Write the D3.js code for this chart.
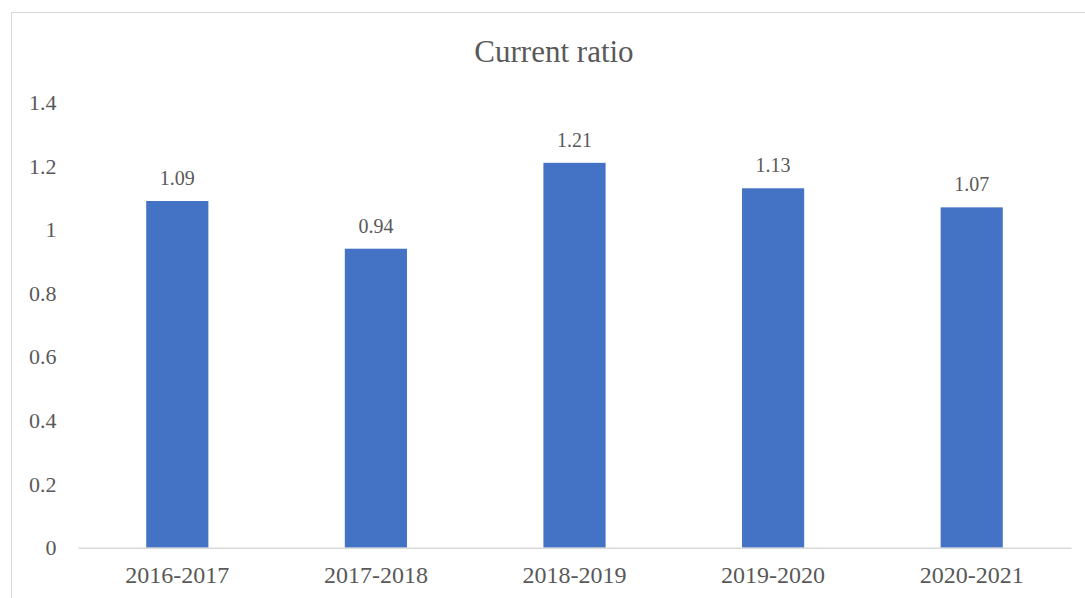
<!DOCTYPE html>
<html>
<head>
<meta charset="utf-8">
<script src="https://cdn.jsdelivr.net/npm/d3@7"></script>
<style>
  html, body { margin: 0; padding: 0; background: #fff; }
  svg { display: block; }
  text { font-family: "Liberation Serif", "Times New Roman", serif; fill: #595959; }
</style>
</head>
<body>
<svg id="chart" width="1085" height="598"></svg>
<script>
// Current ratio by fiscal year
const years = ["2016-2017", "2017-2018", "2018-2019", "2019-2020", "2020-2021"];
const ratios = [1.09, 0.94, 1.21, 1.13, 1.07];
const yTicks = [0, 0.2, 0.4, 0.6, 0.8, 1, 1.2, 1.4];

const svg = d3.select("#chart");
const plot = { left: 78, right: 1071, top: 102.4, bottom: 547.7 };

// chart frame
svg.append("rect")
  .attr("x", 11.5).attr("y", 12.5)
  .attr("width", 1100).attr("height", 620)
  .attr("fill", "#fff")
  .attr("stroke", "#d9d9d9").attr("stroke-width", 1);

// title
svg.append("text")
  .attr("x", 554).attr("y", 62)
  .attr("text-anchor", "middle")
  .style("font-size", "31px")
  .text("Current ratio");

const x = d3.scaleBand()
  .domain(years)
  .range([plot.left, plot.right])
  .paddingInner(0.687)
  .paddingOuter(0.3435);

const y = d3.scaleLinear()
  .domain([0, 1.4])
  .range([plot.bottom, plot.top]);

// y axis labels (no axis line)
const yAxis = d3.axisLeft(y)
  .tickValues(yTicks)
  .tickFormat(d3.format("~g"))
  .tickSize(0)
  .tickPadding(0);

const yg = svg.append("g")
  .attr("transform", "translate(56.5,0)")
  .call(yAxis);
yg.select(".domain").remove();
yg.selectAll("text")
  .style("font-size", "22px")
  .style("font-family", "'Liberation Serif', 'Times New Roman', serif")
  .attr("fill", "#595959");

// bars
svg.append("g").selectAll("rect")
  .data(ratios)
  .join("rect")
  .attr("x", (d, i) => x(years[i]))
  .attr("width", x.bandwidth())
  .attr("y", d => y(d))
  .attr("height", d => y(0) - y(d))
  .attr("fill", "#4472c4");

// value labels
svg.append("g").selectAll("text")
  .data(ratios)
  .join("text")
  .attr("x", (d, i) => x(years[i]) + x.bandwidth() / 2)
  .attr("y", d => y(d) - 16)
  .attr("text-anchor", "middle")
  .style("font-size", "20px")
  .text(d => d.toFixed(2));

// x axis (baseline + category labels)
const xAxis = d3.axisBottom(x).tickSize(0).tickPadding(0);
const xg = svg.append("g")
  .attr("transform", `translate(0,${plot.bottom})`)
  .call(xAxis);
xg.select(".domain")
  .attr("stroke", "#d9d9d9")
  .attr("stroke-width", 1.5);
xg.selectAll("text")
  .attr("dy", 0)
  .attr("y", 35.5)
  .style("font-size", "24px")
  .style("font-family", "'Liberation Serif', 'Times New Roman', serif")
  .attr("fill", "#595959");
</script>
</body>
</html>
